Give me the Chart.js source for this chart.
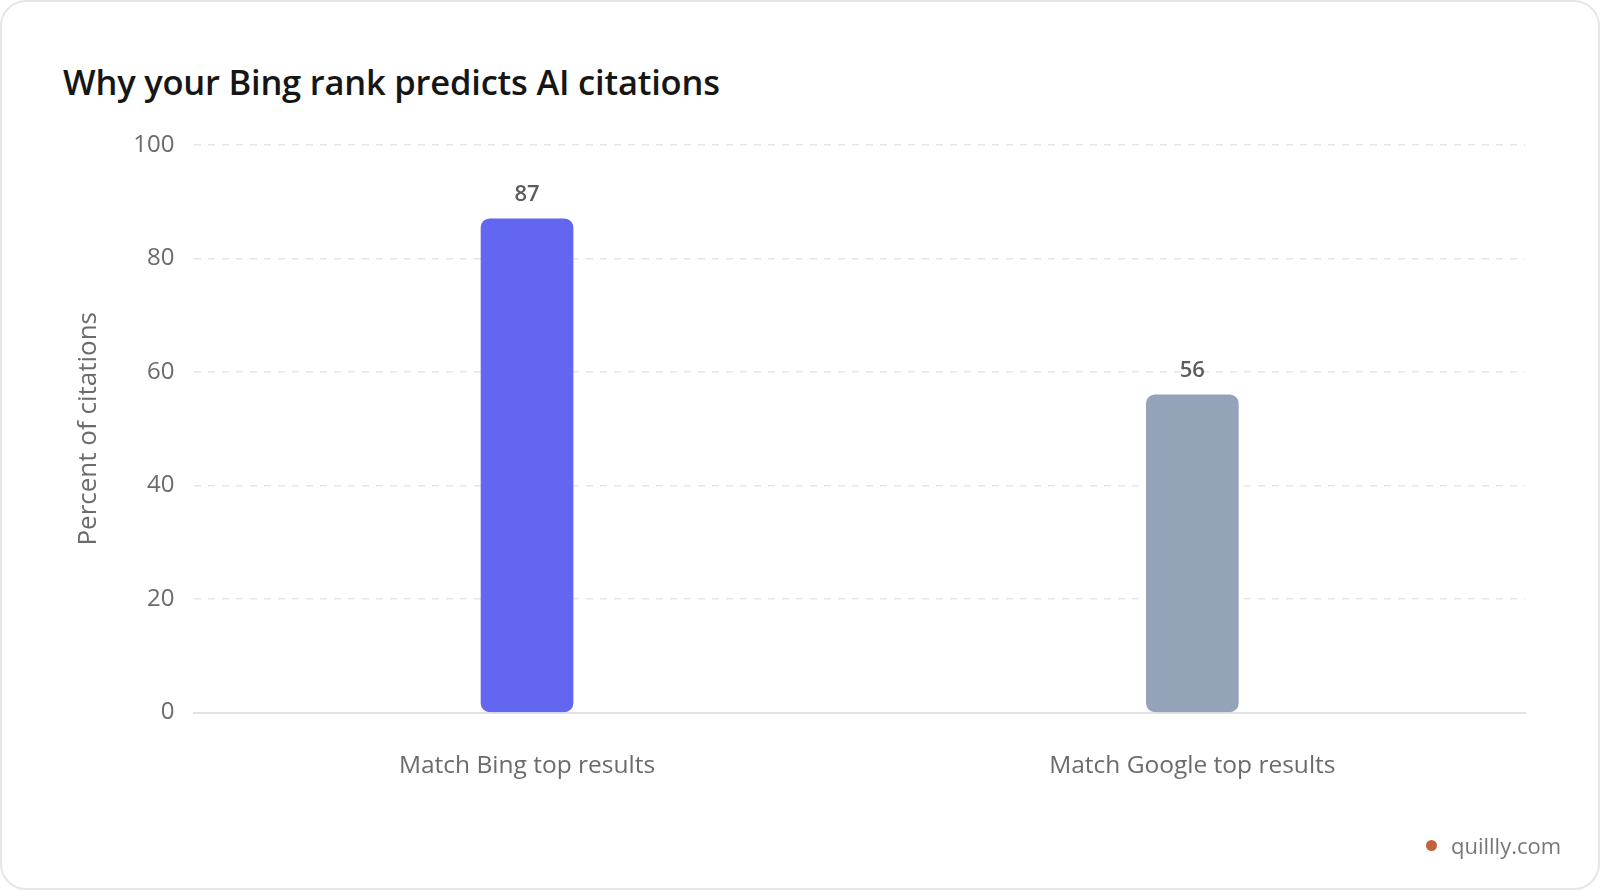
<!DOCTYPE html>
<html>
<head>
<meta charset="utf-8">
<script src="https://cdn.jsdelivr.net/npm/chart.js@4.4.1/dist/chart.umd.min.js"></script>
<style>
  html, body { margin: 0; padding: 0; background: #ffffff; }
  body { width: 1600px; height: 890px; position: relative; overflow: hidden; font-family: "Open Sans", "Noto Sans", sans-serif; }
  .card { position: absolute; left: 0; top: 0; width: 1600px; height: 890px; box-sizing: border-box; border: 2px solid #e6e6e6; border-radius: 26px; background: #fff; }
  .title { position: absolute; left: 63px; top: 58px; font-size: 34.5px; font-weight: 600; color: #161616; letter-spacing: -0.2px; white-space: nowrap; }
  .wrap { position: absolute; left: 0; top: 0; width: 1600px; height: 890px; }
  .mark { position: absolute; left: 1426px; top: 830px; font-size: 22px; color: #777; white-space: nowrap; display: flex; align-items: center; }
  .mark .dot { width: 11px; height: 11px; border-radius: 50%; background: #c4623c; margin-right: 14px; }
</style>
</head>
<body>
<div class="card"></div>
<div class="title">Why your Bing rank predicts AI citations</div>
<div class="wrap"><canvas id="c"></canvas></div>
<div class="mark"><span class="dot"></span><span>quillly.com</span></div>
<script>
const categories = ["Match Bing top results", "Match Google top results"];
const values = [87, 56];
const barColors = ["#6366f1", "#94a3b8"];
const yTicks = [0, 20, 40, 60, 80, 100];
const yAxisTitle = "Percent of citations";

const valueLabels = {
  id: "valueLabels",
  afterDatasetsDraw(chart) {
    const ctx = chart.ctx;
    const meta = chart.getDatasetMeta(0);
    ctx.save();
    ctx.font = "600 22px 'Open Sans', sans-serif";
    ctx.fillStyle = "#5c5c5c";
    ctx.textAlign = "center";
    ctx.textBaseline = "middle";
    meta.data.forEach((bar, i) => {
      ctx.fillText(String(values[i]), bar.x, bar.y - 24);
    });
    ctx.restore();
  }
};

new Chart(document.getElementById("c"), {
  type: "bar",
  data: {
    labels: categories,
    datasets: [{
      data: values,
      backgroundColor: barColors,
      borderRadius: 9,
      borderSkipped: false,
      barThickness: 92
    }]
  },
  plugins: [valueLabels],
  options: {
    responsive: true,
    maintainAspectRatio: false,
    animation: false,
    devicePixelRatio: 1,
    layout: { padding: { left: 73, right: 75, top: 145, bottom: 78 } },
    plugins: { legend: { display: false }, tooltip: { enabled: false } },
    scales: {
      x: {
        grid: { display: false },
        border: { display: true, color: "#e2e2e2", width: 2 },
        ticks: { color: "#6b6b6b", font: { family: "'Open Sans', sans-serif", size: 24.5 }, padding: 31 }
      },
      y: {
        min: 0, max: 100,
        afterBuildTicks(scale) { scale.ticks = yTicks.map(v => ({ value: v })); },
        grid: { color: "#e6e6e6", lineWidth: 1.5, drawTicks: false },
        border: { display: false, dash: [7, 7] },
        ticks: { color: "#6b6b6b", font: { family: "'Open Sans', sans-serif", size: 24 }, padding: 20 },
        title: { display: true, text: yAxisTitle, color: "#6b6b6b", font: { family: "'Open Sans', sans-serif", size: 26 }, padding: { top: 0, bottom: 9 } }
      }
    }
  }
});
</script>
</body>
</html>
